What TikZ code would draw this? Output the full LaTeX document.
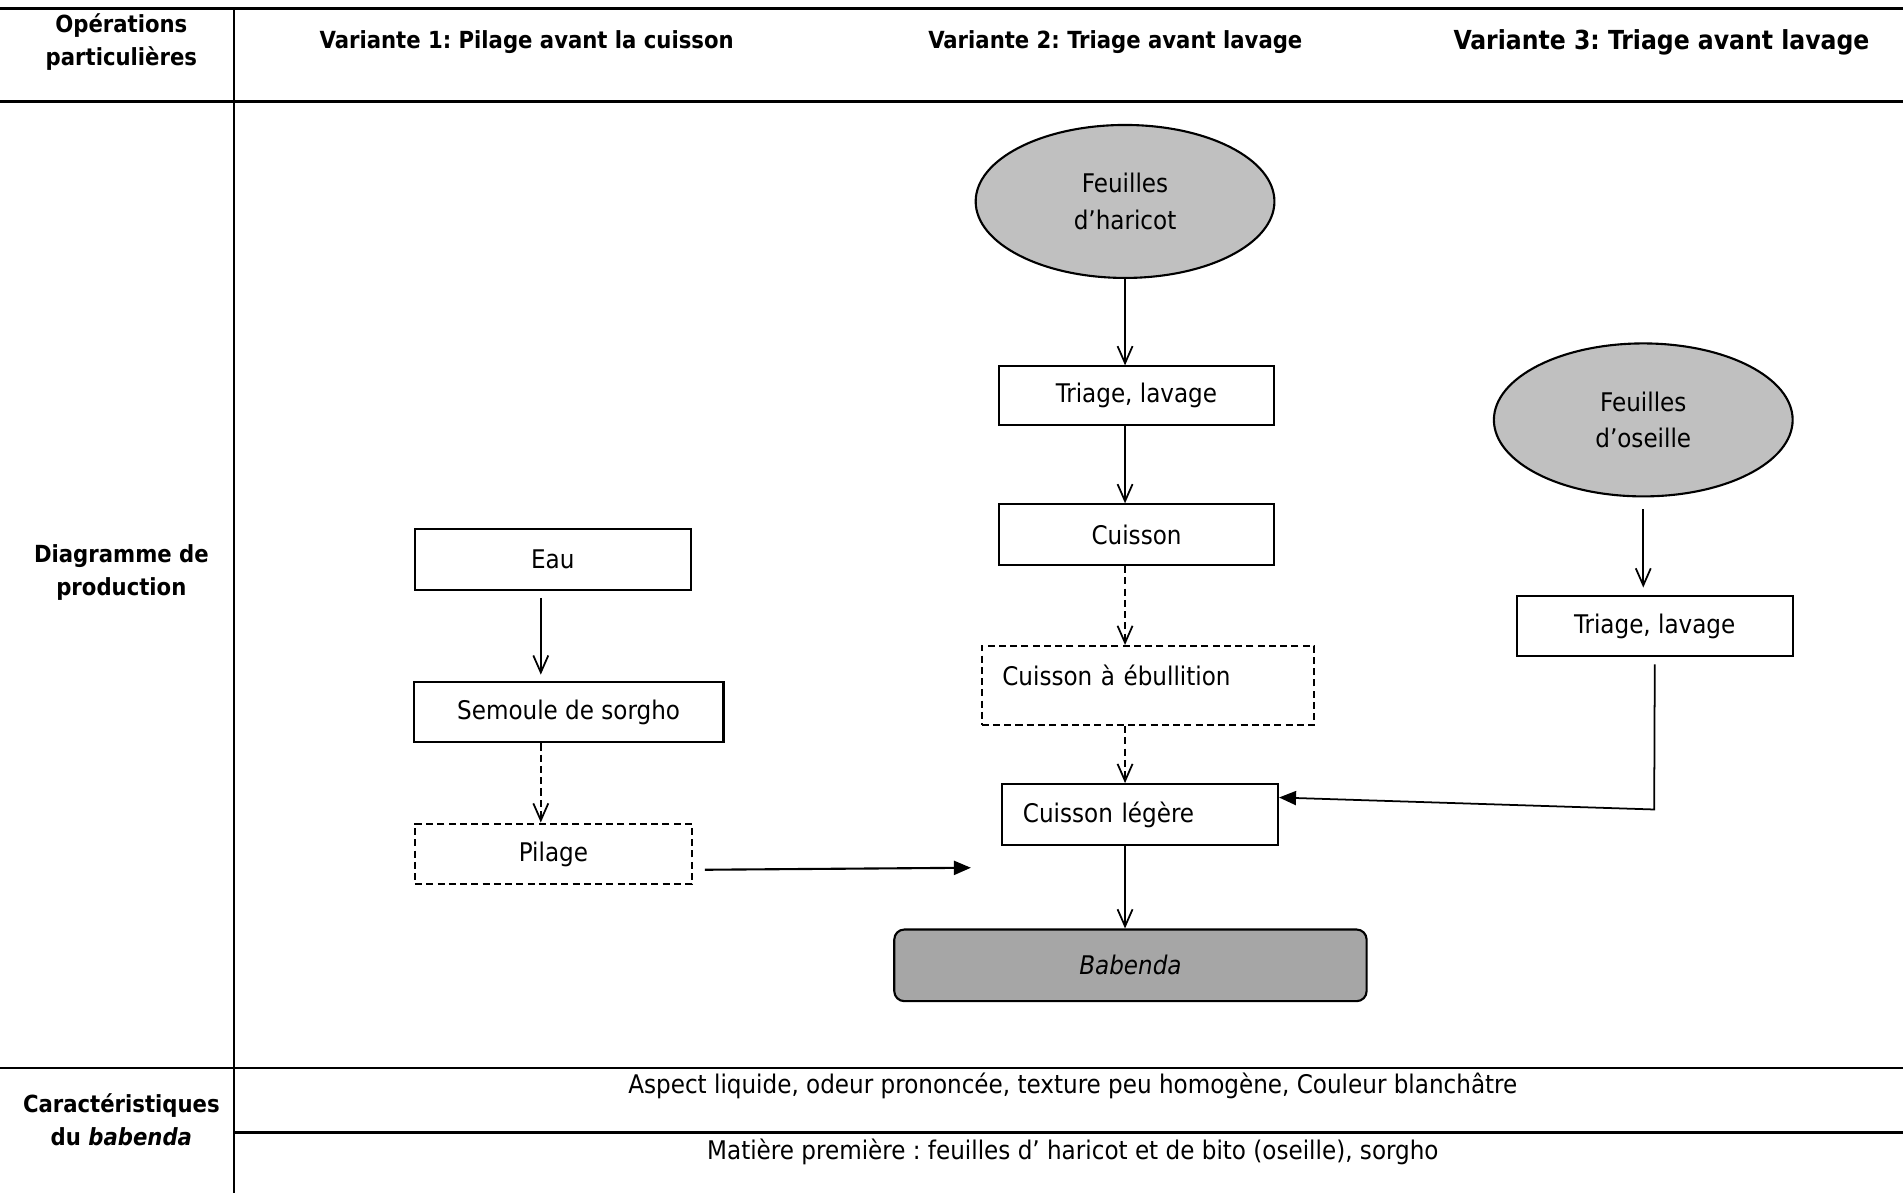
\documentclass[tikz,border=0pt]{standalone}
\usepackage{fontspec}
\setmainfont{DejaVu Sans Condensed}
\usetikzlibrary{positioning}
\usetikzlibrary{shapes.geometric}
\usetikzlibrary{arrows.meta}
\definecolor{rawgray}{HTML}{C0C0C0}
\definecolor{endgray}{HTML}{A6A6A6}
\newcommand{\boxfont}{\fontsize{7.3}{10.4}\selectfont}
\newcommand{\headfont}{\fontsize{6.7}{9.3}\selectfont\bfseries}
\frenchspacing
\tikzset{proc node/.style={shape=rectangle,
    draw, line width=0.6pt, font=\boxfont,
    minimum width=2.755cm, minimum height=0.607cm},
  opt node/.style={proc node, dash pattern=on 2pt off 1.2pt},
  raw node/.style={shape=ellipse, draw, line width=0.6pt,
    fill=rawgray, align=center, font=\boxfont,
    minimum width=2.986cm, minimum height=1.529cm},
  final node/.style={proc node, rounded corners=0.1cm, fill=endgray,
    minimum width=4.721cm, minimum height=0.716cm},
  head node/.style={align=center, font=\headfont},
  step arrow/.style={-{Straight Barb[length=0.17cm,width=0.15cm]}, line width=0.5pt},
  feed arrow/.style={-{Triangle[length=0.17cm,width=0.14cm]}, line width=0.6pt},
  table rule/.style={line width=0.85pt}}

\begin{document}
\begin{tikzpicture}[x=0.012136cm, y=-0.012136cm]
    \useasboundingbox (0,0) rectangle (1568,983);
    \draw[table rule] (0,7) -- (1568,7);
    \draw[table rule] (0,84) -- (1568,84);
    \draw[table rule] (0,880) -- (1568,880);
    \draw[table rule] (193,933) -- (1568,933);
    \draw[line width=0.6pt] (193,7) -- (193,983);

    \node[head node] (opHead) at (100,34.5) {Opérations\\particulières};
    \node[head node] (var1) at (434,35) {Variante 1: Pilage avant la cuisson};
    \node[head node] (var2) at (919,35) {Variante 2: Triage avant lavage};
    \node[head node, font=\fontsize{7.45}{9.3}\selectfont\bfseries] (var3) at (1369,35) {Variante 3: Triage avant lavage};
    \node[head node] (diagHead) at (100,471.5) {Diagramme de\\production};
    \node[head node] (carHead) at (100,922.5) {Caractéristiques\\du \textit{babenda}};
    \node[font=\boxfont] (aspect) at (884,895) {Aspect liquide, odeur prononcée, texture peu homogène, Couleur blanchâtre};
    \node[font=\boxfont] (matiere) at (884,949) {Matière première : feuilles d’ haricot et de bito (oseille), sorgho};

    % variante 2
    \node[raw node] (hFeu) at (927,166) {Feuilles\\d’haricot};
    \node[proc node, minimum height=0.583cm] (hTri) [below = 0.863cm of hFeu, xshift=0.115cm] {Triage, lavage};
    \node[proc node] (hCuis) [below = 0.775cm of hTri] {Cuisson};
    \node[opt node, align=left, text width=2.913cm, inner xsep=0.206cm,
      text height=0.25cm, text depth=0.25cm, minimum height=0.789cm]
      (hEbul) [below = 0.788cm of hCuis, xshift=0.115cm] {Cuisson à ébullition};
    \node[proc node, align=left, text width=2.343cm, inner xsep=0.206cm]
      (hLeg) [below = 0.57cm of hEbul, xshift=-0.079cm] {Cuisson légère};
    \node[final node] (babenda) [below = 0.825cm of hLeg, xshift=-0.097cm] {\textit{Babenda}};

    % variante 1
    \node[proc node] (eau) at (455.5,461) {Eau};
    \node[proc node, minimum width=3.095cm] (semoule) [below = 0.897cm of eau, xshift=0.158cm] {Semoule de sorgho};
    \node[opt node, minimum width=2.767cm] (pilage) [below = 0.79cm of semoule, xshift=-0.152cm] {Pilage};

    % variante 3
    \node[raw node] (oFeu) at (1354,346) {Feuilles\\d’oseille};
    \node[proc node] (oTri) [below = 0.97cm of oFeu, xshift=0.115cm] {Triage, lavage};

    \coordinate (pilEnd) at (800,715);
    \coordinate (oBend) at (1363,667);

    \path[step arrow]
    (hFeu.south) edge (hFeu.south |- hTri.north)
    (hTri.south -| hFeu.center) edge (hCuis.north -| hFeu.center)
    (hLeg.south -| hFeu.center) edge (babenda.north -| hFeu.center)
    ([xshift=-0.12cm]eau.south) edge[shorten <=0.07cm, shorten >=0.06cm] ([xshift=-0.12cm]eau.south |- semoule.north)
    (oFeu.south) edge[shorten <=0.12cm, shorten >=0.07cm] (oFeu.south |- oTri.north)
    ;
    \path[step arrow, dash pattern=on 2pt off 1.2pt]
    (hCuis.south -| hFeu.center) edge (hEbul.north -| hFeu.center)
    (hEbul.south -| hFeu.center) edge (hLeg.north -| hFeu.center)
    ([xshift=-0.12cm]eau.south |- semoule.south) edge ([xshift=-0.12cm]eau.south |- pilage.north)
    ;
    \draw[feed arrow] ([xshift=0.12cm, yshift=-0.158cm]pilage.east) -- (pilEnd);
    \draw[feed arrow, line width=0.5pt] ([yshift=-0.07cm]oTri.south) -- (oBend) -- ([yshift=0.17cm]hLeg.east);
\end{tikzpicture}
\end{document}
